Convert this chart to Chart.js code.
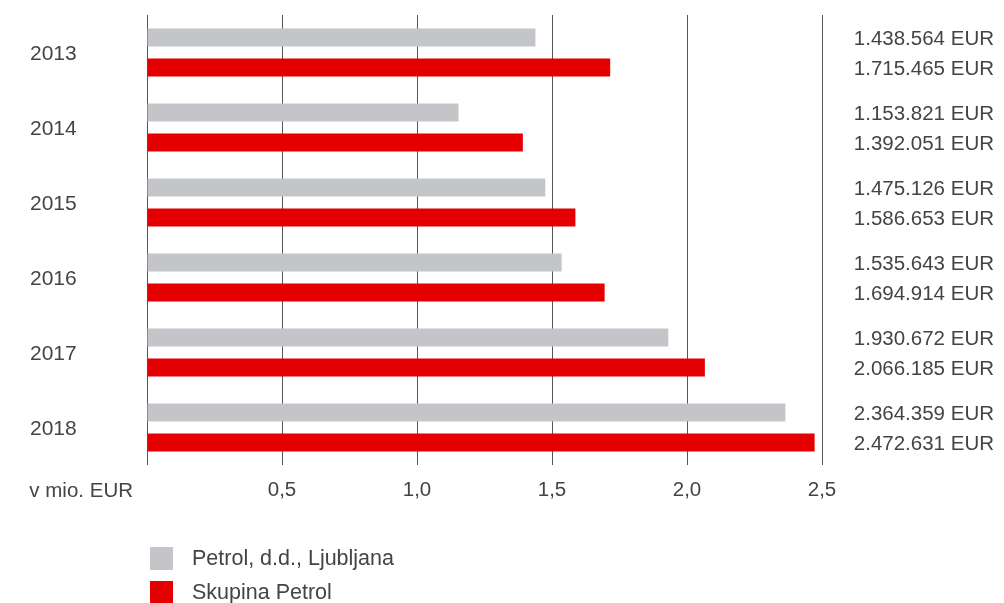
<!DOCTYPE html>
<html>
<head>
<meta charset="utf-8">
<script src="https://cdn.jsdelivr.net/npm/chart.js@4/dist/chart.umd.min.js"></script>
<style>
  body { margin: 0; background: #fff; }
  #wrap { position: relative; width: 1004px; height: 603px; }
  #legend { position: absolute; left: 150px; top: 541px; font: 21.5px "Liberation Sans", sans-serif; color: #444; }
  .item { display: flex; align-items: center; height: 34px; }
  .box { width: 23px; height: 23px; margin-right: 19px; }
</style>
</head>
<body>
<div id="wrap">
  <canvas id="chart"></canvas>
  <div id="legend"></div>
</div>
<script>
const years = ['2013', '2014', '2015', '2016', '2017', '2018'];
const seriesNames = ['Petrol, d.d., Ljubljana', 'Skupina Petrol'];
// v tisoč EUR
const petrolDD = [1438564, 1153821, 1475126, 1535643, 1930672, 2364359];
const skupina = [1715465, 1392051, 1586653, 1694914, 2066185, 2472631];
const colors = ['#c4c5c8', '#e40000'];
const xTicks = [0, 0.5, 1.0, 1.5, 2.0, 2.5];

const fontFamily = '"Liberation Sans", sans-serif';
const textColor = '#444';

function fmt(n) {
  return String(n).replace(/\B(?=(\d{3})+(?!\d))/g, '.') + ' EUR';
}

const rawData = [petrolDD, skupina];

const extras = {
  id: 'extras',
  afterDraw(chart) {
    const ctx = chart.ctx;
    ctx.save();
    ctx.fillStyle = textColor;
    ctx.font = '20.5px ' + fontFamily;
    ctx.textAlign = 'right';
    ctx.textBaseline = 'middle';
    chart.data.datasets.forEach((ds, i) => {
      chart.getDatasetMeta(i).data.forEach((bar, j) => {
        ctx.fillText(fmt(rawData[i][j]), 994, bar.y + 2);
      });
    });
    // unit label at the zero position
    const xs = chart.scales.x;
    ctx.fillText('v mio. EUR', xs.left - 14, xs.top + 26);
    ctx.restore();
  }
};

new Chart(document.getElementById('chart'), {
  type: 'bar',
  data: {
    labels: years,
    datasets: [
      { label: seriesNames[0], data: petrolDD.map(v => v / 1e6), backgroundColor: colors[0] },
      { label: seriesNames[1], data: skupina.map(v => v / 1e6), backgroundColor: colors[1] }
    ]
  },
  options: {
    indexAxis: 'y',
    responsive: true,
    maintainAspectRatio: false,
    animation: false,
    categoryPercentage: 0.8,
    barPercentage: 0.6,
    layout: { padding: { left: 30, right: 182, top: 15, bottom: 85 } },
    plugins: {
      legend: { display: false },
      tooltip: { enabled: false }
    },
    scales: {
      x: {
        min: 0,
        max: 2.5,
        afterBuildTicks: axis => { axis.ticks = xTicks.map(v => ({ value: v })); },
        afterFit: axis => { axis.height = 53; },
        border: { display: false },
        grid: { color: '#555', lineWidth: 1, drawTicks: false },
        ticks: {
          padding: 13,
          color: textColor,
          font: { family: fontFamily, size: 20.5 },
          callback: v => v === 0 ? '' : v.toFixed(1).replace('.', ',')
        }
      },
      y: {
        border: { display: false },
        grid: { display: false, drawTicks: false },
        afterFit: axis => { axis.width = 117; },
        ticks: {
          crossAlign: 'far',
          padding: 0,
          labelOffset: 2,
          color: textColor,
          font: { family: fontFamily, size: 21 }
        }
      }
    }
  },
  plugins: [extras]
});

const legend = document.getElementById('legend');
seriesNames.forEach((name, i) => {
  const row = document.createElement('div');
  row.className = 'item';
  row.innerHTML = '<div class="box" style="background:' + colors[i] + '"></div><span>' + name + '</span>';
  legend.appendChild(row);
});
</script>
</body>
</html>
